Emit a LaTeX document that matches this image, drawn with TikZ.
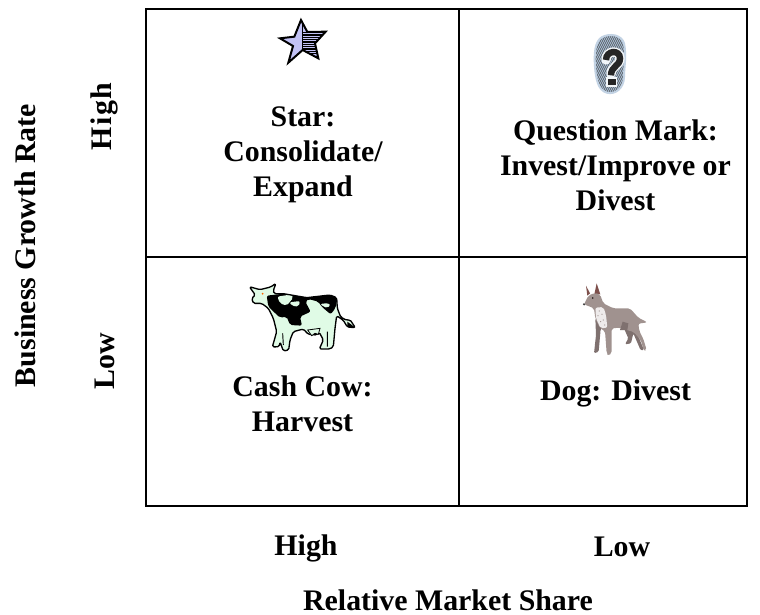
\documentclass[tikz,border=0pt]{standalone}
\usepackage{fontspec}
\setmainfont{Liberation Serif}
\definecolor{starfill}{HTML}{C2C2F5}
\definecolor{cowfill}{HTML}{E0FBE6}
\definecolor{dogbody}{HTML}{A0928F}
\definecolor{dogdark}{HTML}{7F716F}
\definecolor{dogear}{HTML}{7D4F4B}
\definecolor{blobfill}{HTML}{A9C0D8}
\tikzset{
  lbl/.style={font=\fontsize{22.4pt}{26.25pt}\selectfont\bfseries,align=center,inner sep=0pt,text=black},
  gridline/.style={draw=black,line width=1.5pt}
}
\begin{document}
\begin{tikzpicture}[x=0.75pt,y=-0.75pt]
\useasboundingbox (0,0) rectangle (760,614);
\fill[white] (0,0) rectangle (760,614);
% grid
\draw[gridline] (145.5,9) rectangle (747,505.5);
\draw[gridline] (459,9) -- (459,505.5);
\draw[gridline] (145.5,257) -- (747,257);
% labels
\node[lbl] (star) at (303,154.5) {Star:\\Consolidate/\\Expand};
\node[lbl] (qm) at (615.5,165) {Question Mark:\\Invest/Improve or\\Divest};
\node[lbl] (cow) at (302.5,403.5) {Cash Cow:\\Harvest};
\node[lbl] (dog) at (615.5,393) {Dog: Divest};
\node[lbl,rotate=90] (yhigh) at (104.5,116.5) {\addfontfeature{LetterSpace=5}High};
\node[lbl,rotate=90] (ylow) at (104.5,361) {Low};
\node[lbl,rotate=90] (ytitle) at (25,245.5) {Business Growth Rate};
\node[lbl] (xhigh) at (306,548) {High};
\node[lbl] (xlow) at (622,547) {Low};
\node[lbl] (xtitle) at (448,600) {Relative Market Share};
% star icon
\begin{scope}[shift={(260,10)},scale=1/3]
\path[save path=\starpath] (123,30) -- (142,66) -- (197,65) -- (165,100) -- (175,145) -- (128,120) -- (85,158) -- (99,108) -- (60,85) -- (103,80) -- cycle;
\fill[starfill,use path=\starpath];
\begin{scope}
\clip[use path=\starpath];
\foreach \yy in {68,75,82,89,96,103,110,117,124,131}{\draw[black,line width=1.1pt] (130,\yy) -- (200,\yy);}
\draw[black,line width=.9pt] (128,40) -- (128,122);
\end{scope}
\draw[black,line width=1.5pt,line join=miter,use path=\starpath];
\end{scope}
% question mark icon
\begin{scope}[shift={(560,30)},scale=1/3]
\path[save path=\blobpath] (125,22) .. controls (150,8) and (185,15) .. (192,40) .. controls (200,80) and (192,110) .. (192,140) .. controls (192,175) and (165,195) .. (140,188) .. controls (115,180) and (108,150) .. (105,110) .. controls (102,70) and (105,35) .. (125,22) -- cycle;
\fill[blobfill,use path=\blobpath];
\begin{scope}
\clip[use path=\blobpath];
\foreach \dd in {-100,-94,...,190}{\draw[black!70,line width=.45pt] (90+\dd,200) -- (190+\dd,0);}
\end{scope}
\draw[blobfill!70!white,line width=1.5pt,use path=\blobpath];
\draw[white!85!blobfill,line width=7pt,line cap=round] (138,90) .. controls (138,60) and (180,58) .. (180,85) .. controls (180,108) and (153,108) .. (153,132);
\fill[white!85!blobfill] (138,142) rectangle (172,172);
\draw[black!85,line width=4.8pt] (138,90) .. controls (138,60) and (180,58) .. (180,85) .. controls (180,108) and (153,108) .. (153,136);
\fill[black!85] (144,148) rectangle (167,166);
\end{scope}
% cow icon
\begin{scope}[shift={(240,275)},scale=1/3]
\path[rounded corners=1.2pt,save path=\cowpath] (28,35) -- (60,44) -- (92,36) -- (108,25) -- (100,46) -- (102,56) -- (130,56) -- (200,68) -- (270,60) -- (290,68) -- (292,100) -- (302,126) -- (320,136) -- (330,134) -- (346,158) -- (322,156) -- (310,136) -- (290,122) -- (285,160) -- (280,215) -- (270,222) -- (238,222) -- (250,195) -- (238,172) -- (230,180) -- (205,178) -- (190,162) -- (160,170) -- (150,195) -- (146,225) -- (130,228) -- (120,200) -- (118,215) -- (97,216) -- (110,170) -- (100,130) -- (85,100) -- (65,85) -- (40,85) -- (35,70) -- (46,60) -- cycle;
\fill[cowfill,use path=\cowpath];
\fill[black,rounded corners=1.5pt] (80,62) -- (130,56) -- (200,68) -- (270,60) -- (292,70) -- (286,100) -- (272,118) -- (245,95) -- (235,80) -- (205,72) -- (196,80) -- (212,110) -- (180,125) -- (186,152) -- (150,150) -- (140,125) -- (120,128) -- (106,115) -- (85,95) -- cycle;
\fill[cowfill,rounded corners=1.5pt] (112,65) -- (155,58) -- (160,68) -- (140,92) -- (120,85) -- cycle;
\fill[cowfill,rounded corners=1.5pt] (148,82) -- (180,78) -- (176,95) -- (155,92) -- cycle;
\fill[cowfill,rounded corners=1.5pt] (240,88) -- (255,84) -- (272,88) -- (262,100) -- cycle;
\draw[black,line width=1pt,line join=round,use path=\cowpath];
\draw[black,line width=.7pt] (128,175) -- (130,210) (262,170) -- (262,215);
\fill[black] (322,140) -- (346,158) -- (322,156) -- cycle;
\fill[orange!80!red] (68,56) circle (3);
\fill[cowfill,draw=black,line width=.6pt] (203,165) -- (240,160) -- (235,178) -- (225,175) -- (215,182) -- cycle;
\end{scope}
% dog icon
\begin{scope}[shift={(570,275)},scale=1/3]
\fill[dogear] (48,32) -- (60,55) -- (52,62) -- cycle;
\fill[dogear] (80,25) -- (91,58) -- (73,58) -- cycle;
\fill[dogdark,rounded corners=1pt] (162,160) -- (180,135) -- (205,150) -- (200,172) -- (222,225) -- (212,226) -- (190,175) -- (183,205) -- (165,208) -- (175,190) -- cycle;
\fill[dogdark,rounded corners=1pt] (76,130) -- (100,150) -- (92,162) -- (86,230) -- (72,235) -- (78,180) -- cycle;
\fill[dogbody,rounded corners=1.5pt] (42,88) -- (55,62) -- (73,54) -- (90,58) -- (100,85) -- (130,100) -- (180,100) -- (205,128) -- (232,142) -- (205,146) -- (208,168) -- (220,192) -- (230,225) -- (222,228) -- (212,195) -- (190,170) -- (172,166) -- (150,158) -- (125,160) -- (125,235) -- (115,242) -- (110,235) -- (105,168) -- (90,160) -- (76,130) -- (72,100) -- (60,95) -- cycle;
\fill[dogdark] (150,165) -- (158,140) -- (175,145) -- (172,166) -- cycle;
\fill[black!75!dogear] (68,69) circle (2.5);
\fill[black!75] (42,88) circle (3.5);
\fill[white!82!dogbody,rounded corners=1.5pt] (76,98) -- (100,96) -- (108,120) -- (112,158) -- (92,160) -- (78,130) -- cycle;
\foreach \px/\py in {88/108,96/118,84/122,100/135,92/140,104/150}{\fill[dogbody] (\px,\py) circle (1.8);}
\end{scope}
\end{tikzpicture}
\end{document}
